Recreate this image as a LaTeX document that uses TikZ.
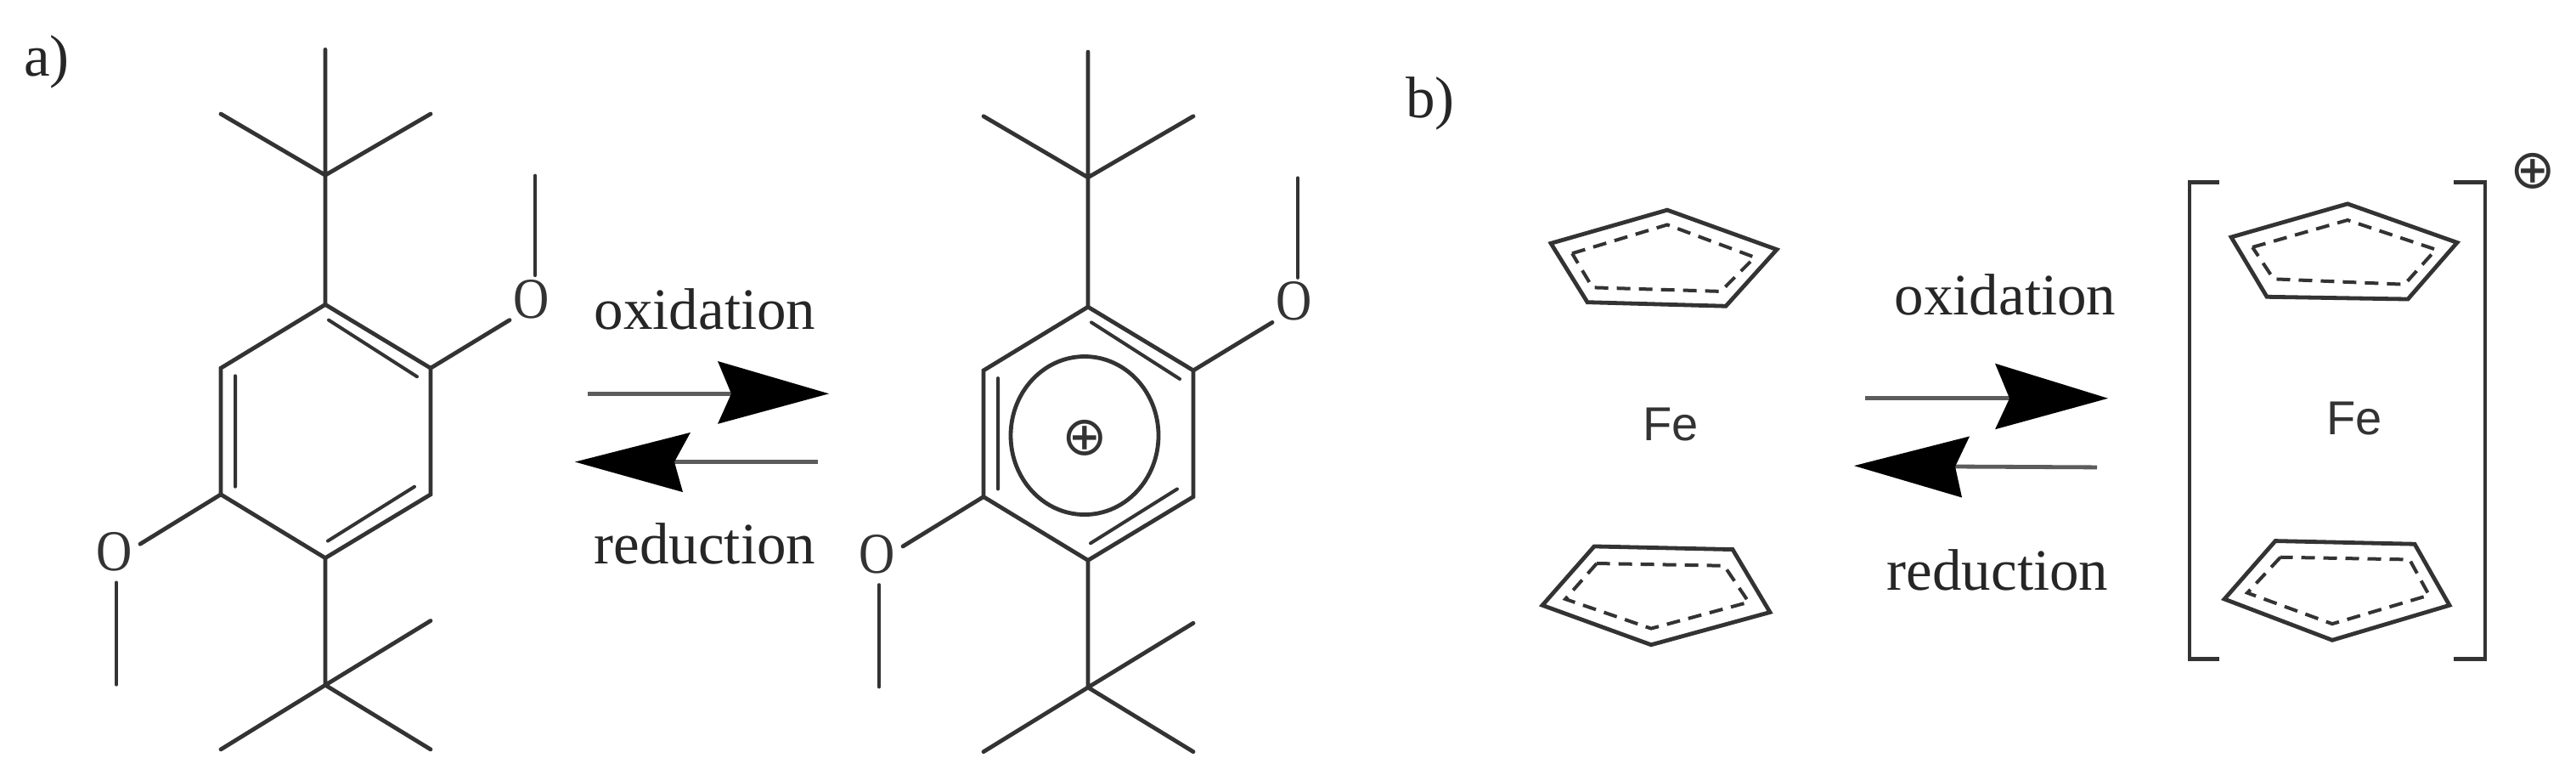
\documentclass[tikz,border=0pt]{standalone}
\usepackage{fontspec}
\setmainfont{Liberation Serif}
\newfontfamily\fesans{Liberation Sans}
\newfontfamily\symfont{DejaVu Sans}
\definecolor{ink}{HTML}{333333}
\tikzset{
  bond/.style={draw=ink,line width=2.4pt,line cap=round,line join=miter},
  thin bond/.style={draw=ink,line width=2pt,line cap=round},
  dashring/.style={draw=ink,line width=2pt,dash pattern=on 8pt off 5pt,line join=miter},
  arrowshaft/.style={draw=ink!80,line width=2.4pt},
  arrowhead/.style={fill=black,draw=none},
  serif label/.style={font=\fontsize{34.5}{40}\selectfont,text=black!85,inner sep=0pt,anchor=base},
  atom/.style={font=\fontsize{34}{40}\selectfont,text=ink,inner sep=0pt,anchor=center,xscale=.86},
  fe/.style={font=\fesans\fontsize{28}{32}\selectfont,text=ink,inner sep=0pt,anchor=base},
  charge/.style={font=\symfont\fontsize{32}{36}\selectfont,text=ink,inner sep=0pt,anchor=center}
}
\newcommand{\benzene}[1]{%
  \coordinate (#1top) at (383,64);
  \coordinate (#1c1) at (383,226);
  \coordinate (#1tl) at (260,147);
  \coordinate (#1tr) at (507,147);
  \coordinate (#1r1) at (383,393);
  \coordinate (#1r2) at (507,475);
  \coordinate (#1r3) at (507,638);
  \coordinate (#1r4) at (383,720);
  \coordinate (#1r5) at (260,638);
  \coordinate (#1r6) at (260,475);
  \coordinate (#1c2) at (383,884);
  \coordinate (#1bl) at (260,967);
  \coordinate (#1br) at (507,967);
  \coordinate (#1ur) at (507,801);
  \node[atom] (#1o1) at (626,386) {O};
  \node[atom] (#1o2) at (135,712) {O};
  \coordinate (#1m1) at (630,227);
  \coordinate (#1m2) at (137,883);
  \coordinate (#1b1) at (600,413);
  \coordinate (#1b2) at (165,702);
  \coordinate (#1e1) at (630,355);
  \coordinate (#1e2) at (137,752);
  \draw[bond] (#1r1)--(#1r2)--(#1r3)--(#1r4)--(#1r5)--(#1r6)--cycle;
  \draw[bond] (#1top)--(#1c1)--(#1r1) (#1tl)--(#1c1)--(#1tr);
  \draw[bond] (#1r4)--(#1c2) (#1ur)--(#1c2)--(#1br) (#1bl)--(#1c2);
  \draw[bond] (#1r2)--(#1b1) (#1r5)--(#1b2);
  \draw[bond] (#1m1)--(#1e1) (#1m2)--(#1e2);
  \coordinate (#1d1) at (387,413); \coordinate (#1d2) at (491,486);
  \coordinate (#1d3) at (277,485); \coordinate (#1d4) at (277,628);
  \coordinate (#1d5) at (386,698); \coordinate (#1d6) at (488,628);
  \draw[thin bond] (#1d1)--(#1d2) (#1d3)--(#1d4) (#1d5)--(#1d6);
}
\begin{document}
\begin{tikzpicture}[x=0.5pt,y=-0.456pt]
\path[use as bounding box,fill=white] (0,0) rectangle (3033,1000);
% panel labels
\node[serif label] (labela) at (55,98) {a)};
\node[serif label] (labelb) at (1684,152) {b)};
% molecules
\begin{scope}\benzene{A}\end{scope}
\begin{scope}[shift={(898,3)}]\benzene{B}
\end{scope}
\draw[bond] (1277,562) ellipse [x radius=87,y radius=102];
\node[charge] (ringplus) at (1277,565) {⊕};
% arrows a
\node[serif label] (oxa) at (830,425) {oxidation};
\node[serif label] (reda) at (830,727) {reduction};
\coordinate (a1s) at (692,508); \coordinate (a1n) at (861,508);
\coordinate (a1t) at (976,508); \coordinate (a1u) at (845,466); \coordinate (a1d) at (845,547);
\draw[arrowshaft] (a1s)--(a1n);
\fill[arrowhead] (a1t)--(a1u)--(a1n)--(a1d)--cycle;
\coordinate (a2s) at (963,596); \coordinate (a2n) at (794,596);
\coordinate (a2t) at (677,596); \coordinate (a2u) at (813,558); \coordinate (a2d) at (804,635);
\draw[arrowshaft] (a2s)--(a2n);
\fill[arrowhead] (a2t)--(a2u)--(a2n)--(a2d)--cycle;
% arrows b
\node[serif label] (oxb) at (2361,406) {oxidation};
\node[serif label] (redb) at (2352,762) {reduction};
\coordinate (b1s) at (2196,514); \coordinate (b1n) at (2366,514);
\coordinate (b1t) at (2482,514); \coordinate (b1u) at (2349,469); \coordinate (b1d) at (2349,554);
\draw[arrowshaft] (b1s)--(b1n);
\fill[arrowhead] (b1t)--(b1u)--(b1n)--(b1d)--cycle;
\coordinate (b2s) at (2469,603); \coordinate (b2n) at (2302,602);
\coordinate (b2t) at (2183,601); \coordinate (b2u) at (2319,563); \coordinate (b2d) at (2310,642);
\draw[arrowshaft] (b2s)--(b2n);
\fill[arrowhead] (b2t)--(b2u)--(b2n)--(b2d)--cycle;
% Fe
\node[fe] (fe1) at (1967,568) {Fe};
\node[fe] (fe2) at (2772,561) {Fe};
% Cp rings
\draw[bond] (1826,314)--(1963,271)--(2092,322)--(2032,395)--(1869,390)--cycle;
\draw[dashring] (1851,327)--(1963,290)--(2066,332)--(2026,376)--(1875,371)--cycle;
\draw[bond] (1816,781)--(1877,705)--(2040,709)--(2084,790)--(1944,832)--cycle;
\draw[dashring] (1880,727)--(1843,773)--(1944,811)--(2059,777)--(2030,730)--cycle;
\draw[bond] (2627,306)--(2764,263)--(2893,313)--(2835,386)--(2669,383)--cycle;
\draw[dashring] (2652,319)--(2764,284)--(2868,322)--(2831,367)--(2677,360)--cycle;
\draw[bond] (2619,773)--(2679,698)--(2843,702)--(2884,781)--(2746,826)--cycle;
\draw[dashring] (2685,719)--(2646,765)--(2746,805)--(2860,768)--(2837,722)--cycle;
% brackets
\coordinate (bl1) at (2613,235); \coordinate (bl2) at (2578,235);
\coordinate (bl3) at (2578,850); \coordinate (bl4) at (2613,850);
\coordinate (br1) at (2889,235); \coordinate (br2) at (2926,235);
\coordinate (br3) at (2926,850); \coordinate (br4) at (2889,850);
\draw[bond,line cap=butt] (bl1)--(bl2)--(bl3)--(bl4);
\draw[bond,line cap=butt] (br1)--(br2)--(br3)--(br4);
\node[charge] (plusb) at (2982,221) {⊕};
\end{tikzpicture}
\end{document}
